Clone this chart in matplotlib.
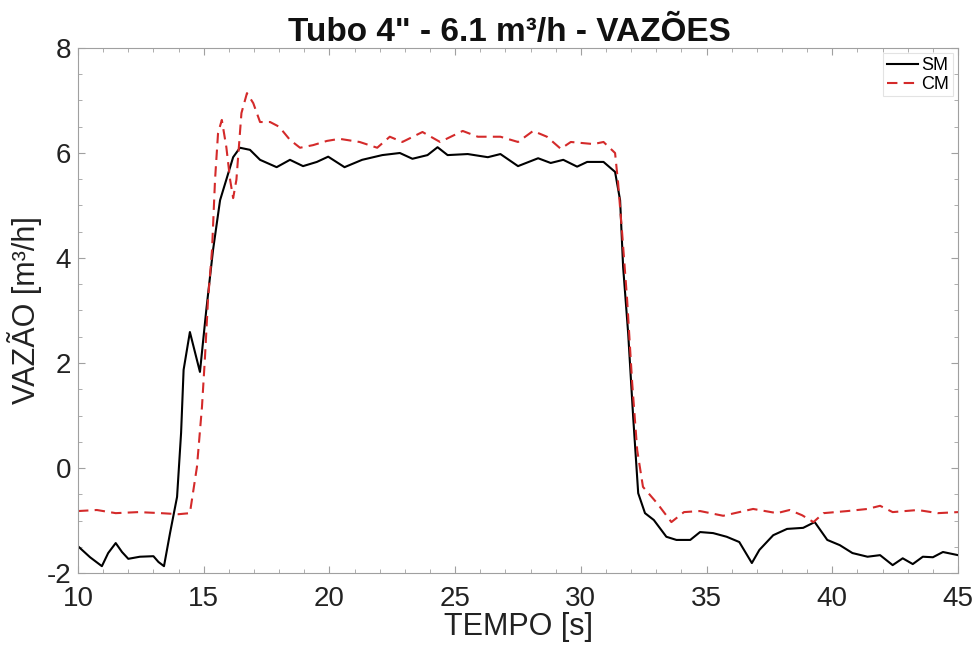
import matplotlib
matplotlib.use("Agg")
import matplotlib.pyplot as plt
from matplotlib.ticker import MultipleLocator

# ---- data ----
t_sm = [10.0, 10.48, 10.95, 11.2, 11.5, 11.75, 12.0, 12.46, 13.0, 13.2, 13.42,
        13.66, 13.94, 14.1, 14.2, 14.45, 14.85, 15.1, 15.37, 15.65, 16.17, 16.44,
        16.84, 17.24, 17.9, 18.43, 18.95, 19.5, 19.95, 20.6, 21.3, 22.1, 22.8,
        23.3, 23.9, 24.3, 24.7, 25.5, 26.3, 26.8, 27.5, 28.3, 28.8, 29.3, 29.85,
        30.25, 30.9, 31.36, 31.56, 31.68, 31.88, 32.08, 32.28, 32.55, 32.9, 33.4,
        33.8, 34.35, 34.74, 35.26, 35.8, 36.3, 36.8, 37.1, 37.65, 38.2, 38.84,
        39.3, 39.8, 40.3, 40.8, 41.4, 41.9, 42.4, 42.8, 43.2, 43.6, 44.0, 44.4, 45.0]
v_sm = [-1.49, -1.70, -1.87, -1.62, -1.43, -1.60, -1.73, -1.69, -1.68, -1.79, -1.87,
        -1.24, -0.55, 0.67, 1.87, 2.59, 1.83, 3.0, 4.15, 5.1, 5.92, 6.1,
        6.06, 5.87, 5.73, 5.87, 5.75, 5.83, 5.93, 5.73, 5.87, 5.96, 6.0,
        5.89, 5.96, 6.11, 5.96, 5.98, 5.92, 5.98, 5.75, 5.90, 5.81, 5.87, 5.74,
        5.83, 5.83, 5.64, 5.1, 3.83, 2.57, 0.97, -0.48, -0.86, -0.99, -1.31,
        -1.37, -1.37, -1.22, -1.24, -1.31, -1.41, -1.81, -1.56, -1.28, -1.16, -1.14,
        -1.03, -1.37, -1.47, -1.62, -1.69, -1.66, -1.85, -1.72, -1.83, -1.69, -1.70, -1.60, -1.66]

t_cm = [10.0, 10.75, 11.5, 12.4, 13.3, 14.0, 14.45, 14.73, 14.93, 15.05, 15.17,
        15.33, 15.45, 15.57, 15.72, 15.9, 16.05, 16.17, 16.3, 16.5, 16.72, 16.97,
        17.24, 17.64, 18.0, 18.43, 18.83, 19.35, 19.9, 20.4, 21.2, 21.9, 22.4,
        22.9, 23.7, 24.4, 25.3, 25.9, 26.8, 27.5, 28.1, 28.65, 29.2, 29.6, 30.5,
        30.9, 31.36, 31.48, 31.64, 31.84, 32.04, 32.24, 32.47, 33.03, 33.6, 34.1,
        34.74, 35.66, 36.85, 37.8, 38.3, 38.8, 39.25, 39.65, 40.6, 41.4, 41.9,
        42.4, 43.4, 44.2, 45.0]
v_cm = [-0.82, -0.80, -0.86, -0.84, -0.86, -0.88, -0.86, 0.02, 1.16, 2.11, 3.2,
        4.15, 5.49, 6.38, 6.63, 6.11, 5.49, 5.14, 5.49, 6.76, 7.14, 6.95,
        6.59, 6.59, 6.50, 6.25, 6.10, 6.15, 6.23, 6.27, 6.21, 6.10, 6.31,
        6.21, 6.40, 6.21, 6.42, 6.31, 6.31, 6.21, 6.42, 6.31, 6.08, 6.21, 6.17,
        6.21, 6.00, 5.43, 4.48, 3.2, 1.62, 0.34, -0.36, -0.67, -1.03, -0.84,
        -0.82, -0.91, -0.78, -0.86, -0.80, -0.90, -1.03, -0.86, -0.82, -0.78, -0.72,
        -0.84, -0.80, -0.86, -0.84]

x_ticks = [10, 15, 20, 25, 30, 35, 40, 45]
y_ticks = [-2, 0, 2, 4, 6, 8]
title = 'Tubo 4" - 6.1 m³/h - VAZÕES'
xlabel = 'TEMPO [s]'
ylabel = 'VAZÃO [m³/h]'
labels = ['SM', 'CM']

# ---- style ----
plt.rcParams['font.family'] = ['Liberation Sans', 'DejaVu Sans']
plt.rcParams['axes.unicode_minus'] = False

fig = plt.figure(figsize=(9.75, 6.46), dpi=100)
ax = fig.add_axes([0.080, 0.113, 0.9026, 0.8127])

red = '#d42a2a'
ax.plot(t_sm, v_sm, color='black', lw=1.5, label=labels[0])
ax.plot(t_cm, v_cm, color=red, lw=1.5, ls=(0, (5, 3)), label=labels[1])

ax.set_xlim(10, 45)
ax.set_ylim(-2, 8)
ax.set_xticks(x_ticks)
ax.set_yticks(y_ticks)
ax.xaxis.set_minor_locator(MultipleLocator(1))
ax.yaxis.set_minor_locator(MultipleLocator(0.5))
ax.tick_params(which='both', direction='in', top=True, right=True,
               color='#a0a0a0', labelcolor='#222222', labelsize=20)
ax.tick_params(axis='x', which='major', pad=9)
ax.tick_params(axis='y', which='major', pad=5)
ax.tick_params(which='major', length=5, width=0.8)
ax.tick_params(which='minor', length=3, width=0.6)
for s in ax.spines.values():
    s.set_color('#a0a0a0')
    s.set_linewidth(0.8)

ax.set_title(title, fontsize=24, fontweight='bold', color='#111111', pad=3, x=0.49)
ax.set_xlabel(xlabel, fontsize=22, color='#222222', labelpad=0)
ax.set_ylabel(ylabel, fontsize=22, color='#222222', labelpad=3)

leg = ax.legend(loc='upper right', fontsize=13, frameon=True, fancybox=False,
                handlelength=1.7, handletextpad=0.2, borderpad=0.2,
                labelspacing=0.1, borderaxespad=0.3)
leg.get_frame().set_edgecolor('#dddddd')
leg.get_frame().set_linewidth(0.8)

fig.savefig('out.png', dpi=100)
